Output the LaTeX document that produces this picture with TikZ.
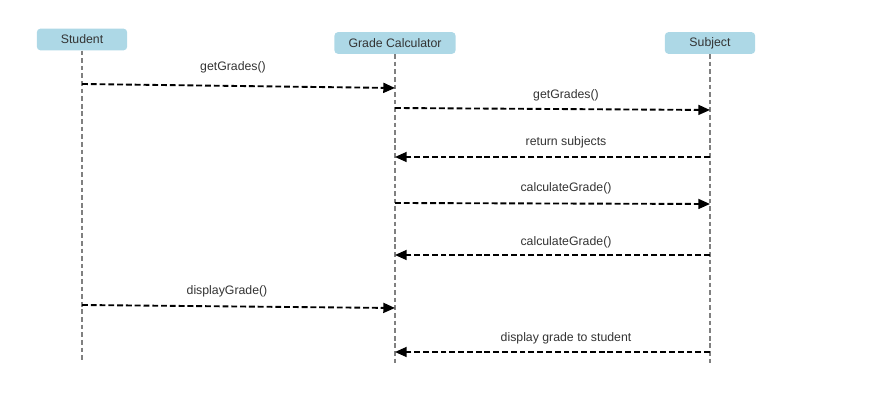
\documentclass[tikz,border=0pt]{standalone}
\usepackage{fontspec}
\setmainfont{Liberation Sans}
\usepackage{tikz}
\usetikzlibrary{arrows.meta}
\definecolor{boxblue}{RGB}{173,216,230}
\definecolor{txtgray}{RGB}{51,51,51}
\tikzset{
  actorbox/.style={fill=boxblue, draw=none, rounded corners=3pt, text=txtgray,
    minimum width=77pt, minimum height=18.5pt, inner xsep=12pt, font=\fontsize{10.5}{12}\selectfont},
  lifeline/.style={draw=gray, line width=1pt, dash pattern=on 4pt off 2.5pt},
  msg/.style={draw=black, line width=1.6pt, dash pattern=on 5pt off 2.5pt,
    -{Triangle[length=10pt,width=8.5pt]}},
  msglabel/.style={text=txtgray, inner sep=1pt, font=\fontsize{10.5}{12}\selectfont}
}
\newcommand{\actor}[4]{\node[actorbox] (#1) at ( #2 , #3 ) {#4};}
\newcommand{\msglabl}[4]{\node[msglabel] (#1) at ( #2 , #3 ) {#4};}

\begin{document}
\begin{tikzpicture}[x=0.03cm,y=-0.03cm]
        \useasboundingbox (0,0) rectangle (886,404);
        % actors
        \actor{student}{82}{39.5}{Student}
        \actor{calc}{395}{43}{Grade Calculator}
        \actor{subject}{710}{43}{Subject}

        % lifelines
        \coordinate (studentend) at (82,362);
        \coordinate (calcend) at (395,366);
        \coordinate (subjectend) at (710,366);
        \draw[lifeline] (student.south) -- (studentend);
        \draw[lifeline] (calc.south) -- (calcend);
        \draw[lifeline] (subject.south) -- (subjectend);

        % message ends
        \coordinate (m1a) at (82,84);   \coordinate (m1b) at (395,88);
        \coordinate (m2a) at (395,108); \coordinate (m2b) at (710,110);
        \coordinate (m3a) at (710,157); \coordinate (m3b) at (395,157);
        \coordinate (m4a) at (395,203); \coordinate (m4b) at (710,204);
        \coordinate (m5a) at (710,255); \coordinate (m5b) at (395,255);
        \coordinate (m6a) at (82,305);  \coordinate (m6b) at (395,308);
        \coordinate (m7a) at (710,352); \coordinate (m7b) at (395,352);

        % messages
        \draw[msg] (m1a) -- (m1b);
        \draw[msg] (m2a) -- (m2b);
        \draw[msg] (m3a) -- (m3b);
        \draw[msg] (m4a) -- (m4b);
        \draw[msg] (m5a) -- (m5b);
        \draw[msg] (m6a) -- (m6b);
        \draw[msg] (m7a) -- (m7b);

        % labels
        \msglabl{l1}{233}{67}{getGrades()}
        \msglabl{l2}{566}{95}{getGrades()}
        \msglabl{l3}{566}{142}{return subjects}
        \msglabl{l4}{566}{188}{calculateGrade()}
        \msglabl{l5}{566}{242}{calculateGrade()}
        \msglabl{l6}{227}{291}{displayGrade()}
        \msglabl{l7}{566}{338}{display grade to student}
\end{tikzpicture}
\end{document}
